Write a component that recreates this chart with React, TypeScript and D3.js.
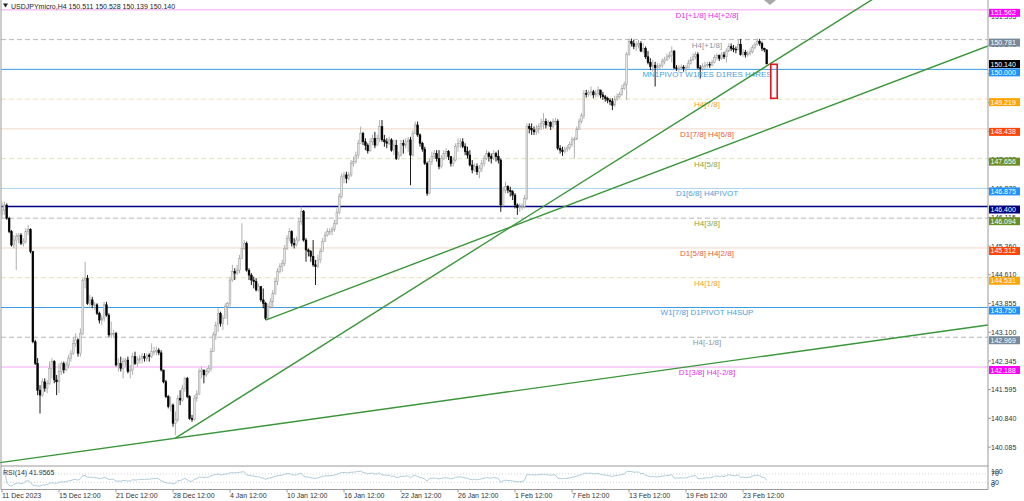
import React from "react";
import * as d3 from "d3";

// ---------- DATA ----------
const symbolHeader = "USDJPYmicro,H4  150.511 150.528 150.139 150.140";
const firstOpen = 146.2;

const closes = [
  146.31, 146.44, 146.09, 145.74, 145.39, 145.52, 145.61, 145.65, 145.43, 145.48,
  145.74, 145.80, 145.22, 142.85, 142.28, 141.58, 141.45, 141.80, 141.63, 141.76,
  142.15, 142.33, 141.85, 141.80, 142.07, 142.28, 142.11, 142.24, 142.42, 142.55,
  142.81, 142.90, 142.55, 143.07, 144.47, 144.52, 143.86, 143.95, 143.82, 143.82,
  143.60, 143.42, 143.47, 143.82, 143.55, 143.03, 143.07, 143.07, 142.24, 142.28,
  142.15, 142.33, 142.37, 142.07, 142.11, 142.46, 142.28, 142.37, 142.42, 142.46,
  142.42, 142.50, 142.46, 142.59, 142.59, 142.63, 142.56, 142.11, 141.80, 141.41,
  141.15, 141.19, 140.71, 140.80, 141.37, 141.32, 141.63, 141.89, 141.41, 140.84,
  140.81, 141.37, 141.48, 142.07, 142.11, 141.98, 142.07, 142.15, 142.59, 143.03,
  143.29, 143.60, 143.33, 143.47, 143.77, 143.86, 144.47, 144.69, 144.65, 144.73,
  145.04, 145.30, 145.43, 144.73, 144.60, 144.47, 144.43, 144.21, 144.30, 143.95,
  143.86, 143.47, 143.77, 143.90, 144.12, 144.43, 144.69, 144.82, 144.91, 145.30,
  145.57, 145.74, 145.43, 145.39, 145.52, 146.00, 146.27, 145.52, 145.26, 145.22,
  145.09, 144.87, 144.82, 145.00, 145.22, 145.48, 145.65, 145.74, 145.74, 145.80,
  145.96, 146.25, 146.66, 147.18, 147.23, 147.14, 147.23, 147.53, 147.58, 147.75,
  148.06, 148.32, 148.10, 148.01, 147.86, 148.10, 148.19, 148.01, 148.19, 148.50,
  148.15, 148.10, 148.06, 148.15, 147.88, 148.01, 147.66, 147.75, 148.06, 148.01,
  148.10, 148.15, 147.75, 148.32, 148.54, 148.28, 148.06, 147.91, 147.53, 146.75,
  147.58, 147.71, 147.79, 147.66, 147.45, 147.66, 147.79, 147.84, 147.71, 147.53,
  147.62, 147.97, 148.06, 148.10, 147.97, 147.84, 147.75, 147.49, 147.36, 147.45,
  147.31, 147.40, 147.53, 147.66, 147.79, 147.71, 147.66, 147.79, 147.71, 147.62,
  146.44, 146.83, 146.92, 146.83, 146.79, 146.70, 146.44, 146.37, 146.40, 146.40,
  146.61, 148.50, 148.45, 148.41, 148.36, 148.43, 148.50, 148.58, 148.63, 148.54,
  148.61, 148.50, 148.63, 148.64, 147.93, 147.88, 147.84, 147.91, 147.94, 148.03,
  148.15, 148.17, 148.43, 148.64, 148.78, 149.37, 149.34, 149.39, 149.41, 149.33,
  149.37, 149.46, 149.33, 149.28, 149.24, 149.19, 149.15, 149.06, 149.22, 149.28,
  149.34, 149.50, 149.61, 150.39, 150.73, 150.68, 150.60, 150.64, 150.68, 150.48,
  150.55, 150.33, 150.18, 150.07, 150.11, 150.04, 150.07, 150.10, 150.20, 150.25,
  150.33, 150.36, 150.48, 150.04, 150.03, 150.04, 150.06, 150.03, 150.04, 150.16,
  150.25, 150.33, 150.39, 150.04, 150.03, 150.07, 150.11, 150.13, 150.11, 150.18,
  150.31, 150.36, 150.29, 150.38, 150.33, 150.48, 150.60, 150.55, 150.53, 150.51,
  150.66, 150.39, 150.45, 150.38, 150.42, 150.46, 150.57, 150.66, 150.74, 150.68,
  150.55, 150.511, 150.14,
];

const highs = [
  146.53, 146.53, 146.48, 146.13, 145.78, 145.65, 145.70, 145.70, 145.70, 145.57,
  145.83, 145.92, 145.83, 145.22, 142.90, 142.42, 141.71, 141.89, 141.89, 141.85,
  142.33, 142.42, 142.37, 141.98, 142.28, 142.33, 142.33, 142.33, 142.50, 142.63,
  142.98, 143.07, 142.94, 143.20, 144.52, 144.95, 144.60, 144.08, 144.03, 143.90,
  143.86, 143.64, 143.55, 143.90, 143.90, 143.60, 143.38, 143.16, 143.11, 142.42,
  142.46, 142.42, 142.42, 142.46, 142.24, 142.55, 142.59, 142.46, 142.50, 142.55,
  142.55, 142.55, 142.55, 142.81, 142.72, 142.72, 142.68, 142.63, 142.11, 141.85,
  141.45, 141.41, 141.23, 141.02, 141.45, 141.58, 141.72, 141.93, 141.93, 141.45,
  140.93, 141.45, 141.58, 142.15, 142.20, 142.11, 142.15, 142.24, 142.68, 143.11,
  143.38, 143.73, 143.64, 143.55, 143.86, 143.90, 144.56, 144.87, 144.78, 144.87,
  145.13, 145.96, 145.52, 145.48, 144.78, 144.65, 144.56, 144.52, 144.38, 144.25,
  144.25, 143.90, 143.86, 143.99, 144.21, 144.52, 144.78, 144.91, 145.00, 145.39,
  145.65, 145.83, 145.78, 145.57, 145.61, 146.09, 146.40, 146.31, 145.57, 145.30,
  145.26, 145.52, 145.00, 145.13, 145.30, 145.57, 145.74, 145.83, 145.83, 145.87,
  146.05, 146.35, 146.75, 147.27, 147.31, 147.31, 147.31, 147.62, 147.71, 147.84,
  148.15, 148.50, 148.36, 148.19, 148.06, 148.19, 148.28, 148.36, 148.28, 148.67,
  148.67, 148.28, 148.19, 148.23, 148.19, 148.15, 148.15, 147.84, 148.15, 148.15,
  148.19, 148.23, 148.23, 148.41, 148.63, 148.63, 148.32, 148.10, 147.97, 147.58,
  147.66, 147.84, 147.88, 147.88, 147.88, 147.75, 147.88, 147.93, 147.88, 147.71,
  147.71, 148.06, 148.19, 148.19, 148.19, 148.06, 147.97, 147.88, 147.62, 147.53,
  147.53, 147.49, 147.62, 147.75, 147.88, 147.84, 147.79, 147.88, 147.84, 147.88,
  147.66, 146.92, 147.05, 146.96, 146.92, 146.83, 146.75, 146.48, 146.48, 146.48,
  146.70, 148.58, 148.58, 148.58, 148.50, 148.54, 148.58, 148.71, 148.85, 148.71,
  148.67, 148.64, 148.71, 148.73, 148.69, 148.01, 147.97, 147.97, 148.01, 148.10,
  148.23, 148.23, 148.50, 148.71, 148.85, 149.46, 149.46, 149.46, 149.55, 149.46,
  149.46, 149.55, 149.46, 149.41, 149.33, 149.28, 149.24, 149.24, 149.31, 149.37,
  149.41, 149.59, 149.68, 150.46, 150.81, 150.81, 150.77, 150.73, 150.77, 150.74,
  150.68, 150.60, 150.48, 150.29, 150.25, 150.20, 150.16, 150.16, 150.29, 150.33,
  150.42, 150.46, 150.60, 150.51, 150.11, 150.11, 150.13, 150.11, 150.11, 150.25,
  150.33, 150.42, 150.46, 150.45, 150.11, 150.16, 150.20, 150.20, 150.20, 150.25,
  150.38, 150.42, 150.39, 150.46, 150.46, 150.55, 150.68, 150.68, 150.64, 150.60,
  150.77, 150.80, 150.53, 150.51, 150.48, 150.55, 150.64, 150.71, 150.81, 150.80,
  150.73, 150.57, 150.528,
];

const lows = [
  146.09, 146.18, 146.05, 145.70, 145.35, 145.30, 144.73, 145.43, 145.39, 145.35,
  145.43, 145.65, 145.17, 142.81, 142.24, 141.45, 140.97, 141.41, 141.54, 141.50,
  141.72, 141.89, 141.76, 141.45, 141.50, 141.98, 142.02, 142.07, 142.15, 142.33,
  142.50, 142.72, 142.46, 142.46, 143.03, 144.25, 143.82, 143.77, 143.73, 143.68,
  143.55, 143.33, 143.29, 143.38, 143.51, 142.98, 142.94, 142.98, 142.20, 142.07,
  142.07, 141.89, 142.20, 142.02, 141.89, 141.98, 142.24, 142.20, 142.28, 142.28,
  142.33, 142.33, 142.33, 142.42, 142.50, 142.50, 142.50, 142.07, 141.76, 141.37,
  141.10, 141.02, 140.62, 140.40, 140.75, 141.19, 141.28, 141.54, 141.37, 140.80,
  140.75, 140.78, 141.28, 141.45, 141.89, 141.76, 141.93, 142.02, 142.07, 142.59,
  142.90, 143.11, 143.25, 143.16, 143.47, 143.29, 143.77, 144.43, 144.47, 144.60,
  144.65, 145.04, 145.26, 144.69, 144.47, 144.34, 144.25, 144.17, 144.17, 143.90,
  143.73, 143.42, 143.44, 143.73, 143.73, 144.08, 144.34, 144.65, 144.69, 144.84,
  145.26, 145.48, 145.35, 145.30, 145.35, 145.48, 145.92, 145.48, 144.95, 145.09,
  144.95, 144.82, 144.34, 144.78, 144.91, 145.26, 145.48, 145.61, 145.65, 145.65,
  145.74, 145.92, 146.20, 146.61, 147.01, 147.01, 147.09, 147.18, 147.45, 147.53,
  147.66, 148.10, 148.01, 147.88, 147.79, 147.84, 148.01, 147.93, 148.06, 148.10,
  148.10, 147.97, 147.93, 148.01, 147.84, 147.75, 147.62, 147.62, 147.71, 147.79,
  147.93, 147.84, 146.96, 147.71, 148.32, 148.23, 147.97, 147.84, 147.49, 146.68,
  146.72, 147.49, 147.66, 147.58, 147.38, 147.40, 147.62, 147.66, 147.62, 147.45,
  147.45, 147.58, 147.84, 147.93, 147.93, 147.75, 147.66, 147.45, 147.27, 147.31,
  147.23, 147.14, 147.31, 147.45, 147.62, 147.58, 147.53, 147.62, 147.58, 147.53,
  146.26, 146.40, 146.75, 146.75, 146.66, 146.57, 146.35, 146.18, 146.26, 146.31,
  146.35, 146.57, 148.32, 148.28, 148.28, 148.28, 148.32, 148.41, 148.43, 148.45,
  148.50, 148.41, 148.45, 148.54, 147.88, 147.79, 147.73, 147.79, 147.84, 147.88,
  147.97, 147.66, 148.15, 148.41, 148.58, 148.70, 149.26, 149.28, 149.31, 149.24,
  149.26, 149.28, 149.24, 149.20, 149.15, 149.11, 149.06, 148.93, 149.02, 149.17,
  149.24, 149.31, 149.46, 149.20, 150.36, 150.60, 150.53, 150.48, 150.55, 150.45,
  150.42, 150.27, 150.13, 149.98, 149.94, 149.55, 149.94, 149.98, 150.04, 150.13,
  150.22, 150.27, 150.18, 150.01, 149.96, 149.94, 149.98, 149.94, 149.94, 150.03,
  150.13, 150.22, 150.27, 150.01, 149.76, 149.96, 150.01, 150.04, 150.04, 150.08,
  150.16, 150.25, 150.22, 150.25, 150.27, 150.18, 150.45, 150.48, 150.45, 150.42,
  150.51, 150.36, 150.33, 150.31, 150.33, 150.36, 150.42, 150.53, 150.62, 150.62,
  150.48, 150.45, 150.139,
];

const dateLabels = [
  "11 Dec 2023", "15 Dec 12:00", "21 Dec 12:00", "28 Dec 12:00", "4 Jan 12:00",
  "10 Jan 12:00", "16 Jan 12:00", "22 Jan 12:00", "26 Jan 12:00", "1 Feb 12:00",
  "7 Feb 12:00", "13 Feb 12:00", "19 Feb 12:00", "23 Feb 12:00",
];
const dateLabelBars = [0, 24, 48, 72, 96, 120, 144, 168, 192, 216, 240, 264, 288, 312];

const priceTicks = [
  140.085, 140.84, 141.595, 142.345, 143.1, 143.855, 144.61, 145.36,
  146.115, 146.87, 147.625, 148.375, 149.13, 149.885, 150.64, 151.395,
];

const levelPrices = [
  151.562, 150.781, 150.0, 149.219, 148.438, 147.656, 146.875,
  146.4, 146.094, 145.312, 144.531, 143.75, 142.969, 142.188,
];
const levelNames = [
  "D1[+1/8] H4[+2/8]", "H4[+1/8]", "MN1PIVOT W1RES D1RES H4RES", "H4[7/8]",
  "D1[7/8] H4[6/8]", "H4[5/8]", "D1[6/8] H4PIVOT", "", "H4[3/8]",
  "D1[5/8] H4[2/8]", "H4[1/8]", "W1[7/8] D1PIVOT H4SUP", "H4[-1/8]", "D1[3/8] H4[-2/8]",
];
const levelKinds = [
  "magenta", "grey", "blue", "orange", "red", "olive", "lightblue",
  "navy", "greyolive", "red", "orange", "blue", "grey", "magenta",
];

const currentPrice = 150.14;

// trend lines: [bar1, price1, bar2, price2]
const trendLines = [
  [73, 140.32, 336, 150.64],
  [111, 143.42, 415, 150.61],
  [73, 140.32, 415, 143.29],
];
const trendExtendLeft = [false, false, true];

// highlighted box: [bar1, bar2, priceTop, priceBottom]
const redBox = [323.7, 326.4, 150.133, 149.24];

const rsiLabel = "RSI(14) 41.9565";
const rsiScaleLabels = ["100", "70", "30", "0"];

// ---------- STYLES ----------
const styles: Record<string, any> = {
  magenta: { line: "#f2a6f2", dash: "", text: "#e62ee6", box: "#ff00ff" },
  grey: { line: "#b8b8b8", dash: "5,3", text: "#8c96a6", box: "#778899" },
  blue: { line: "#3c9be3", dash: "", text: "#4aa0e0", box: "#1e90ff" },
  orange: { line: "#efe0a8", dash: "5,3", text: "#f0a530", box: "#ffa500" },
  red: { line: "#f3d7c6", dash: "", text: "#e8603a", box: "#ff4500" },
  olive: { line: "#d9e2b8", dash: "5,3", text: "#8aa544", box: "#6b8e23" },
  lightblue: { line: "#acd2ef", dash: "", text: "#4aa0e0", box: "#1e90ff" },
  navy: { line: "#000080", dash: "", text: "#000080", box: "#000080", width: 1.6 },
  greyolive: { line: "#b8b8b8", dash: "5,3", text: "#8aa544", box: "#6b8e23" },
};

const FONT = "'Liberation Sans', Arial, sans-serif";

export default function App() {
  const W = 1024;
  const H = 501;
  const axisX = 988;
  const mainBottom = 466;
  const rsiBottom = 489.5;

  const x = d3.scaleLinear().domain([0, 100]).range([2, 2 + 100 * 2.375]);
  const y = d3.scaleLinear().domain([142.188, 151.562]).range([367, 367 - 9.374 * 38.1]);
  const yR = d3.scaleLinear().domain([0, 100]).range([488.5, 467.8]);
  // compressed label placement of the tiny RSI scale (labels overlap as in MT4)
  const rsiLabelY = [473.5, 476, 484.5, 487];

  const candles = closes.map((c, i) => {
    const o = i === 0 ? firstOpen : closes[i - 1];
    const h = Math.max(highs[i], o, c);
    const l = Math.min(lows[i], o, c);
    return { i, o, h, l, c, bull: c >= o };
  });

  // RSI(14), Wilder smoothing
  const rsi: [number, number][] = [];
  let ag = 0;
  let al = 0;
  const n = 14;
  for (let i = 1; i < closes.length; i++) {
    const d = closes[i] - closes[i - 1];
    const g = Math.max(d, 0);
    const lo = Math.max(-d, 0);
    if (i <= n) {
      ag = (ag * (i - 1) + g) / i;
      al = (al * (i - 1) + lo) / i;
    } else {
      ag = (ag * (n - 1) + g) / n;
      al = (al * (n - 1) + lo) / n;
    }
    const v = al === 0 ? 100 : 100 - 100 / (1 + ag / al);
    rsi.push([i, v]);
  }
  const rsiPath = d3
    .line<[number, number]>()
    .x((d) => x(d[0]))
    .y((d) => yR(d[1]))(rsi) as string;

  const tls = trendLines.map(([i1, p1, i2, p2], k) => {
    const x1 = x(i1);
    const y1 = y(p1);
    const x2 = x(i2);
    const y2 = y(p2);
    const m = (y2 - y1) / (x2 - x1);
    const xs = trendExtendLeft[k] ? 0 : x1;
    const xe = axisX;
    return { x1: xs, y1: y1 + m * (xs - x1), x2: xe, y2: y1 + m * (xe - x1) };
  });

  const fmt = d3.format(".3f");

  return (
    <div style={{ position: "absolute", left: 0, top: 0, width: W, height: H, background: "#fff" }}>
      <svg width={W} height={H} style={{ display: "block", fontFamily: FONT }}>
        <defs>
          <clipPath id="mainClip">
            <rect x={0} y={0} width={axisX} height={mainBottom} />
          </clipPath>
        </defs>
        <rect x={0} y={0} width={W} height={H} fill="#fff" />

        {/* level lines */}
        <g>
          {levelPrices.map((p, k) => {
            const s = styles[levelKinds[k]];
            return (
              <line
                key={"lv" + k}
                x1={1}
                x2={axisX}
                y1={y(p)}
                y2={y(p)}
                stroke={s.line}
                strokeWidth={s.width || 1}
                strokeDasharray={s.dash || undefined}
              />
            );
          })}
        </g>

        {/* candles */}
        <g clipPath="url(#mainClip)">
          {candles.map((d) => {
            const cx = x(d.i);
            const top = y(Math.max(d.o, d.c));
            const bot = y(Math.min(d.o, d.c));
            const hgt = Math.max(0.8, bot - top);
            return (
              <g key={"c" + d.i}>
                <line
                  x1={cx}
                  x2={cx}
                  y1={y(d.h)}
                  y2={y(d.l)}
                  stroke={d.bull ? "#a6a6a6" : "#000"}
                  strokeWidth={0.9}
                />
                <rect
                  x={cx - 0.9}
                  y={top}
                  width={1.8}
                  height={hgt}
                  fill={d.bull ? "#e4e4e4" : "#000"}
                  stroke={d.bull ? "#9c9c9c" : "#000"}
                  strokeWidth={0.5}
                />
              </g>
            );
          })}
        </g>

        {/* level labels */}
        <g fontSize={8} textAnchor="middle">
          {levelPrices.map((p, k) =>
            levelNames[k] ? (
              <text key={"ln" + k} x={707} y={y(p) + 8} fill={styles[levelKinds[k]].text}>
                {levelNames[k]}
              </text>
            ) : null
          )}
        </g>

        {/* trend lines */}
        <g clipPath="url(#mainClip)">
          {tls.map((t, k) => (
            <line key={"tl" + k} x1={t.x1} y1={t.y1} x2={t.x2} y2={t.y2} stroke="#3a963a" strokeWidth={1.4} />
          ))}
        </g>

        {/* red box */}
        <rect
          x={x(redBox[0])}
          y={y(redBox[2])}
          width={x(redBox[1]) - x(redBox[0])}
          height={y(redBox[3]) - y(redBox[2])}
          fill="none"
          stroke="#e8141c"
          strokeWidth={1.6}
        />

        {/* shift marker */}
        <polygon points="764,0 776,0 770,5" fill="#a8a8a8" />

        {/* frame */}
        <line x1={1} x2={1} y1={0} y2={rsiBottom} stroke="#9a9a9a" strokeWidth={1} />
        <line x1={axisX} x2={axisX} y1={0} y2={rsiBottom} stroke="#9a9a9a" strokeWidth={1} />
        <line x1={1} x2={axisX} y1={mainBottom} y2={mainBottom} stroke="#9a9a9a" strokeWidth={1} />
        <line x1={1} x2={axisX} y1={rsiBottom} y2={rsiBottom} stroke="#9a9a9a" strokeWidth={1} />

        {/* header */}
        <polygon points="3,3.5 8,3.5 5.5,7.5" fill="#222" />
        <text x={11} y={8.5} fontSize={7} fill="#222">
          {symbolHeader}
        </text>

        {/* price axis ticks */}
        <g fontSize={7} fill="#333">
          {priceTicks.map((p, k) => (
            <g key={"pt" + k}>
              <line x1={axisX} x2={axisX + 3} y1={y(p)} y2={y(p)} stroke="#9a9a9a" />
              <text x={991} y={y(p) + 2.5}>
                {fmt(p)}
              </text>
            </g>
          ))}
        </g>

        {/* level price boxes */}
        <g fontSize={7}>
          {levelPrices.map((p, k) => {
            const s = styles[levelKinds[k]];
            return (
              <g key={"lb" + k}>
                <rect x={axisX + 1} y={y(p) - 1} width={31} height={8} fill={s.box} />
                <text x={990.5} y={y(p) + 5.5} fill="#fff">
                  {fmt(p)}
                </text>
              </g>
            );
          })}
          <rect x={axisX + 1} y={y(currentPrice) - 4} width={31} height={8} fill="#000" />
          <text x={990.5} y={y(currentPrice) + 2.5} fill="#fff">
            {fmt(currentPrice)}
          </text>
        </g>

        {/* RSI panel */}
        {[70, 30].map((v) => (
          <line
            key={"rl" + v}
            x1={1}
            x2={axisX}
            y1={yR(v)}
            y2={yR(v)}
            stroke="#c8c8c8"
            strokeWidth={0.8}
            strokeDasharray="1,2"
          />
        ))}
        <path d={rsiPath} fill="none" stroke="#a9c6d6" strokeWidth={0.9} />
        <text x={3} y={475} fontSize={7} fill="#333">
          {rsiLabel}
        </text>
        <g fontSize={7} fill="#333">
          {rsiScaleLabels.map((v, k) => (
            <text key={"rv" + v} x={991} y={rsiLabelY[k]}>
              {v}
            </text>
          ))}
        </g>

        {/* time axis */}
        <g fontSize={7} fill="#333">
          {dateLabelBars.map((b, k) => (
            <g key={"dl" + k}>
              <line x1={x(b)} x2={x(b)} y1={rsiBottom} y2={rsiBottom + 3} stroke="#9a9a9a" />
              <text x={x(b)} y={497.5}>
                {dateLabels[k]}
              </text>
            </g>
          ))}
        </g>
      </svg>
    </div>
  );
}
